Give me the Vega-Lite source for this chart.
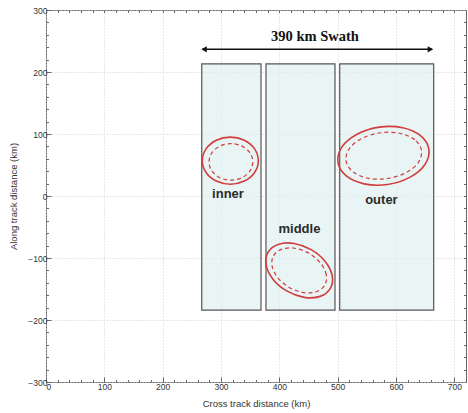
{
  "$schema": "https://vega.github.io/schema/vega-lite/v6.json",
  "width": 420,
  "height": 372,
  "autosize": {"type": "none"},
  "padding": {"left": 46, "top": 10, "right": 2, "bottom": 31},
  "background": "white",
  "config": {
    "view": {"stroke": "#666", "strokeWidth": 1},
    "axis": {
      "labelFont": "Liberation Sans",
      "titleFont": "Liberation Sans",
      "labelFontSize": 8.5,
      "titleFontSize": 9.5,
      "titleFontWeight": "normal",
      "labelColor": "#333",
      "titleColor": "#333",
      "domain": false,
      "tickColor": "#666",
      "gridColor": "#cfcfcf",
      "gridDash": [1, 2],
      "gridWidth": 1
    }
  },
  "datasets": {
    "boxes": [
      {"name": "inner", "x1": 267, "x2": 368.6, "y1": -184, "y2": 213},
      {"name": "middle", "x1": 377.1, "x2": 495.4, "y1": -184, "y2": 213},
      {"name": "outer", "x1": 503.5, "x2": 664.6, "y1": -184, "y2": 213}
    ],
    "arrow": [{"xa": 268, "xb": 662, "y": 236.6}],
    "heads": [
      {"x": 271, "y": 236.6, "dir": "left"},
      {"x": 659, "y": 236.6, "dir": "right"}
    ],
    "ellipses": [
      {"id": "inner-s", "style": "solid", "i": 0, "x": 364, "y": 57},
      {"id": "inner-s", "style": "solid", "i": 1, "x": 357.6, "y": 76},
      {"id": "inner-s", "style": "solid", "i": 2, "x": 340, "y": 89.9},
      {"id": "inner-s", "style": "solid", "i": 3, "x": 316, "y": 95},
      {"id": "inner-s", "style": "solid", "i": 4, "x": 292, "y": 89.9},
      {"id": "inner-s", "style": "solid", "i": 5, "x": 274.4, "y": 76},
      {"id": "inner-s", "style": "solid", "i": 6, "x": 268, "y": 57},
      {"id": "inner-s", "style": "solid", "i": 7, "x": 274.4, "y": 38},
      {"id": "inner-s", "style": "solid", "i": 8, "x": 292, "y": 24.1},
      {"id": "inner-s", "style": "solid", "i": 9, "x": 316, "y": 19},
      {"id": "inner-s", "style": "solid", "i": 10, "x": 340, "y": 24.1},
      {"id": "inner-s", "style": "solid", "i": 11, "x": 357.6, "y": 38},
      {"id": "inner-d", "style": "dashed", "i": 0, "x": 354.5, "y": 55},
      {"id": "inner-d", "style": "dashed", "i": 1, "x": 349.5, "y": 69.75},
      {"id": "inner-d", "style": "dashed", "i": 2, "x": 335.75, "y": 80.5},
      {"id": "inner-d", "style": "dashed", "i": 3, "x": 317, "y": 84.5},
      {"id": "inner-d", "style": "dashed", "i": 4, "x": 298.25, "y": 80.5},
      {"id": "inner-d", "style": "dashed", "i": 5, "x": 284.5, "y": 69.75},
      {"id": "inner-d", "style": "dashed", "i": 6, "x": 279.5, "y": 55},
      {"id": "inner-d", "style": "dashed", "i": 7, "x": 284.5, "y": 40.25},
      {"id": "inner-d", "style": "dashed", "i": 8, "x": 298.25, "y": 29.5},
      {"id": "inner-d", "style": "dashed", "i": 9, "x": 317, "y": 25.5},
      {"id": "inner-d", "style": "dashed", "i": 10, "x": 335.75, "y": 29.5},
      {"id": "inner-d", "style": "dashed", "i": 11, "x": 349.5, "y": 40.25},
      {"id": "outer-s", "style": "solid", "i": 0, "x": 656.4, "y": 75.1},
      {"id": "outer-s", "style": "solid", "i": 1, "x": 642.5, "y": 96.9},
      {"id": "outer-s", "style": "solid", "i": 2, "x": 611.5, "y": 110.0},
      {"id": "outer-s", "style": "solid", "i": 3, "x": 571.5, "y": 111.1},
      {"id": "outer-s", "style": "solid", "i": 4, "x": 533.3, "y": 99.6},
      {"id": "outer-s", "style": "solid", "i": 5, "x": 507.4, "y": 79.2},
      {"id": "outer-s", "style": "solid", "i": 6, "x": 500.4, "y": 54.5},
      {"id": "outer-s", "style": "solid", "i": 7, "x": 514.3, "y": 32.7},
      {"id": "outer-s", "style": "solid", "i": 8, "x": 545.3, "y": 19.6},
      {"id": "outer-s", "style": "solid", "i": 9, "x": 585.3, "y": 18.5},
      {"id": "outer-s", "style": "solid", "i": 10, "x": 623.5, "y": 30.0},
      {"id": "outer-s", "style": "solid", "i": 11, "x": 649.4, "y": 50.4},
      {"id": "outer-d", "style": "dashed", "i": 0, "x": 643.7, "y": 73.2},
      {"id": "outer-d", "style": "dashed", "i": 1, "x": 632.2, "y": 90.7},
      {"id": "outer-d", "style": "dashed", "i": 2, "x": 606.5, "y": 101.2},
      {"id": "outer-d", "style": "dashed", "i": 3, "x": 573.3, "y": 102.0},
      {"id": "outer-d", "style": "dashed", "i": 4, "x": 541.6, "y": 92.8},
      {"id": "outer-d", "style": "dashed", "i": 5, "x": 520.1, "y": 76.5},
      {"id": "outer-d", "style": "dashed", "i": 6, "x": 514.3, "y": 56.8},
      {"id": "outer-d", "style": "dashed", "i": 7, "x": 525.8, "y": 39.3},
      {"id": "outer-d", "style": "dashed", "i": 8, "x": 551.5, "y": 28.8},
      {"id": "outer-d", "style": "dashed", "i": 9, "x": 584.7, "y": 28.0},
      {"id": "outer-d", "style": "dashed", "i": 10, "x": 616.4, "y": 37.2},
      {"id": "outer-d", "style": "dashed", "i": 11, "x": 637.9, "y": 53.5},
      {"id": "middle-s", "style": "solid", "i": 0, "x": 487.5, "y": -149.0},
      {"id": "middle-s", "style": "solid", "i": 1, "x": 490.6, "y": -128.4},
      {"id": "middle-s", "style": "solid", "i": 2, "x": 478.6, "y": -105.5},
      {"id": "middle-s", "style": "solid", "i": 3, "x": 454.6, "y": -86.5},
      {"id": "middle-s", "style": "solid", "i": 4, "x": 425.1, "y": -76.5},
      {"id": "middle-s", "style": "solid", "i": 5, "x": 398.0, "y": -78.1},
      {"id": "middle-s", "style": "solid", "i": 6, "x": 380.5, "y": -91.0},
      {"id": "middle-s", "style": "solid", "i": 7, "x": 377.4, "y": -111.6},
      {"id": "middle-s", "style": "solid", "i": 8, "x": 389.4, "y": -134.5},
      {"id": "middle-s", "style": "solid", "i": 9, "x": 413.4, "y": -153.5},
      {"id": "middle-s", "style": "solid", "i": 10, "x": 442.9, "y": -163.5},
      {"id": "middle-s", "style": "solid", "i": 11, "x": 470.0, "y": -161.9},
      {"id": "middle-d", "style": "dashed", "i": 0, "x": 477.9, "y": -143.8},
      {"id": "middle-d", "style": "dashed", "i": 1, "x": 480.4, "y": -126.9},
      {"id": "middle-d", "style": "dashed", "i": 2, "x": 470.6, "y": -108.1},
      {"id": "middle-d", "style": "dashed", "i": 3, "x": 450.9, "y": -92.5},
      {"id": "middle-d", "style": "dashed", "i": 4, "x": 426.7, "y": -84.3},
      {"id": "middle-d", "style": "dashed", "i": 5, "x": 404.5, "y": -85.6},
      {"id": "middle-d", "style": "dashed", "i": 6, "x": 390.1, "y": -96.2},
      {"id": "middle-d", "style": "dashed", "i": 7, "x": 387.6, "y": -113.1},
      {"id": "middle-d", "style": "dashed", "i": 8, "x": 397.4, "y": -131.9},
      {"id": "middle-d", "style": "dashed", "i": 9, "x": 417.1, "y": -147.5},
      {"id": "middle-d", "style": "dashed", "i": 10, "x": 441.3, "y": -155.7},
      {"id": "middle-d", "style": "dashed", "i": 11, "x": 463.5, "y": -154.4}
    ],
    "labels": [
      {"text": "inner", "x": 312, "y": 3},
      {"text": "middle", "x": 434.5, "y": -53},
      {"text": "outer", "x": 575, "y": -6.5}
    ],
    "title": [{"text": "390 km Swath", "x": 461, "y": 257}]
  },
  "resolve": {"axis": {"x": "independent", "y": "independent"}},
  "layer": [
    {
      "data": {"name": "boxes"},
      "mark": {"type": "rect", "fill": "#e0f1f1", "fillOpacity": 0.7, "stroke": "#555", "strokeWidth": 1.2},
      "encoding": {
        "x": {"field": "x1", "type": "quantitative", "scale": {"domain": [0, 720], "nice": false, "zero": false},
          "axis": {"orient": "bottom", "title": "Cross track distance (km)", "values": [0, 100, 200, 300, 400, 500, 600, 700], "tickSize": -5, "labelPadding": 5, "titlePadding": 8, "grid": true}},
        "x2": {"field": "x2"},
        "y": {"field": "y1", "type": "quantitative", "scale": {"domain": [-300, 300], "nice": false, "zero": false},
          "axis": {"orient": "left", "title": "Along track distance (km)", "values": [-300, -200, -100, 0, 100, 200, 300], "tickSize": -5, "labelPadding": 4, "titlePadding": 9, "grid": true}},
        "y2": {"field": "y2"}
      }
    },
    {
      "data": {"name": "arrow"},
      "mark": {"type": "rule", "stroke": "#111", "strokeWidth": 1.5},
      "encoding": {
        "x": {"field": "xa", "type": "quantitative",
          "axis": {"orient": "bottom", "title": null, "labels": false, "grid": false, "tickSize": -2.5, "values": [20, 40, 60, 80, 120, 140, 160, 180, 220, 240, 260, 280, 320, 340, 360, 380, 420, 440, 460, 480, 520, 540, 560, 580, 620, 640, 660, 680, 720]}},
        "x2": {"field": "xb"},
        "y": {"field": "y", "type": "quantitative",
          "axis": {"orient": "left", "title": null, "labels": false, "grid": false, "tickSize": -2.5, "values": [-280, -260, -240, -220, -180, -160, -140, -120, -80, -60, -40, -20, 20, 40, 60, 80, 120, 140, 160, 180, 220, 240, 260, 280]}}
      }
    },
    {
      "data": {"name": "heads"},
      "mark": {"type": "point", "filled": true, "color": "#111", "size": 40, "opacity": 1},
      "encoding": {
        "x": {"field": "x", "type": "quantitative",
          "axis": {"orient": "top", "title": null, "labels": false, "grid": false, "tickSize": -2.5, "values": [20, 40, 60, 80, 100, 120, 140, 160, 180, 200, 220, 240, 260, 280, 300, 320, 340, 360, 380, 400, 420, 440, 460, 480, 500, 520, 540, 560, 580, 600, 620, 640, 660, 680, 700]}},
        "y": {"field": "y", "type": "quantitative",
          "axis": {"orient": "right", "title": null, "labels": false, "grid": false, "tickSize": -2.5, "values": [-280, -260, -240, -220, -200, -180, -160, -140, -120, -100, -80, -60, -40, -20, 0, 20, 40, 60, 80, 100, 120, 140, 160, 180, 200, 220, 240, 260, 280]}},
        "shape": {"field": "dir", "type": "nominal", "scale": {"domain": ["left", "right"], "range": ["triangle-left", "triangle-right"]}, "legend": null}
      }
    },
    {
      "data": {"name": "ellipses"},
      "transform": [{"filter": "datum.style === 'solid'"}],
      "mark": {"type": "line", "interpolate": "cardinal-closed", "stroke": "#d23c3c", "strokeWidth": 1.6},
      "encoding": {
        "x": {"field": "x", "type": "quantitative", "axis": null},
        "y": {"field": "y", "type": "quantitative", "axis": null},
        "detail": {"field": "id"},
        "order": {"field": "i", "type": "quantitative"}
      }
    },
    {
      "data": {"name": "ellipses"},
      "transform": [{"filter": "datum.style === 'dashed'"}],
      "mark": {"type": "line", "interpolate": "cardinal-closed", "stroke": "#d23c3c", "strokeWidth": 1.2, "strokeDash": [4, 3]},
      "encoding": {
        "x": {"field": "x", "type": "quantitative", "axis": null},
        "y": {"field": "y", "type": "quantitative", "axis": null},
        "detail": {"field": "id"},
        "order": {"field": "i", "type": "quantitative"}
      }
    },
    {
      "data": {"name": "labels"},
      "mark": {"type": "text", "font": "Liberation Sans", "fontSize": 13, "fontWeight": "bold", "color": "#2a2a2a", "align": "center", "baseline": "middle"},
      "encoding": {
        "x": {"field": "x", "type": "quantitative", "axis": null},
        "y": {"field": "y", "type": "quantitative", "axis": null},
        "text": {"field": "text"}
      }
    },
    {
      "data": {"name": "title"},
      "mark": {"type": "text", "font": "Liberation Serif", "fontSize": 14.5, "fontWeight": "bold", "color": "#111", "align": "center", "baseline": "middle"},
      "encoding": {
        "x": {"field": "x", "type": "quantitative", "axis": null},
        "y": {"field": "y", "type": "quantitative", "axis": null},
        "text": {"field": "text"}
      }
    }
  ]
}
